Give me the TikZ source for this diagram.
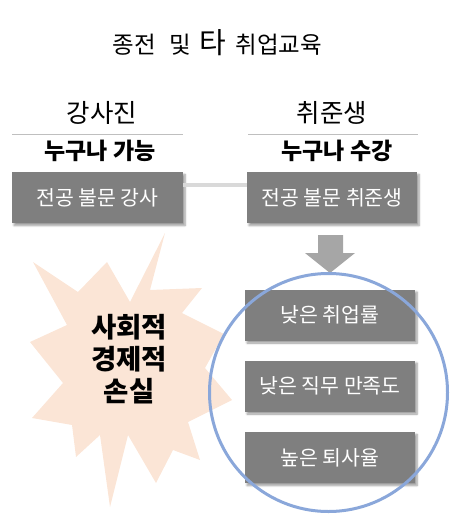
\documentclass[tikz,border=0pt]{standalone}
\usepackage{fontspec}
\newfontfamily\kr{Noto Sans CJK KR}
\usetikzlibrary{shadows.blur}
\definecolor{boxgray}{HTML}{7F7F7F}
\definecolor{arrowgray}{HTML}{A6A6A6}
\definecolor{linkgray}{HTML}{D9D9D9}
\definecolor{rulegray}{HTML}{BFBFBF}
\definecolor{ringblue}{HTML}{8AA7DA}
\definecolor{burst}{HTML}{FBE5D6}
\tikzset{
  graybox/.style={fill=boxgray, text=white, minimum width=170pt, minimum height=51pt,
    inner sep=0pt, font=\kr\fontsize{20.5}{23}\selectfont,
    blur shadow={shadow xshift=2pt, shadow yshift=-2.5pt, shadow blur steps=6, shadow blur radius=2pt}},
  head/.style={font=\kr\fontsize{25.5}{28}\selectfont, inner sep=0pt},
  subhead/.style={font=\kr\bfseries\fontsize{23}{26}\selectfont, inner sep=0pt},
  headrule/.style={draw=rulegray, line width=0.8pt},
}
\begin{document}
\begin{tikzpicture}[x=1pt, y=-1pt]
\useasboundingbox (0,0) rectangle (464,522);
% title
\node[font=\kr\fontsize{23.5}{26}\selectfont, inner sep=0pt] (title) at (217.5,43)
  {종전\hspace{13pt}및\hspace{9pt}{\fontsize{29}{30}\selectfont 타}\hspace{9pt}취업교육};
% column heads
\node[head] (hleft) at (102,113) {강사진};
\node[head] (hright) at (332,113) {취준생};
\coordinate (rl1) at (12,134); \coordinate (rl2) at (183,134);
\coordinate (rr1) at (248,134); \coordinate (rr2) at (418,134);
\draw[headrule] (rl1) -- (rl2);
\draw[headrule] (rr1) -- (rr2);
\node[subhead] (sleft) at (100,151) {누구나 가능};
\node[subhead] (sright) at (337,151) {누구나 수강};
% starburst
\path[fill=burst] (165,233) -- (150,290) -- (202,288) -- (182,313) -- (224,334)
  -- (205,368) -- (232,400) -- (188,422) -- (200,460) -- (173,450) -- (156,483)
  -- (128,435) -- (110,507) -- (100,435) -- (76,457) -- (72,425) -- (32,418)
  -- (63,383) -- (30,342) -- (67,325) -- (33,262) -- (78,292) -- (107,262)
  -- (130,302) -- cycle;
\node[font=\kr\bfseries\fontsize{27.5}{32}\selectfont, align=center, inner sep=0pt] (loss) at (129,359)
  {사회적\\경제적\\손실};
% top boxes
\node[graybox, minimum width=171pt] (lbox) at (97.5,197.5) {전공 불문 강사};
\node[graybox] (rbox) at (332,197.5) {전공 불문 취준생};
\draw[linkgray, line width=4pt] ([yshift=13pt]lbox.east) -- ([yshift=13pt]rbox.west);
% down arrow
\path[fill=arrowgray] (318,235) -- (343,235) -- (343,253) -- (355,253) -- (330,273)
  -- (305,253) -- (318,253) -- cycle;
% result boxes
\node[graybox] (b1) at (330,315) {낮은 취업률};
\node[graybox] (b2) at (330,386) {낮은 직무 만족도};
\node[graybox] (b3) at (330,457.5) {높은 퇴사율};
% ring
\node[draw=ringblue, line width=3pt, circle, minimum size=238pt, inner sep=0pt] (ring) at (328.5,392.5) {};
\end{tikzpicture}
\end{document}
